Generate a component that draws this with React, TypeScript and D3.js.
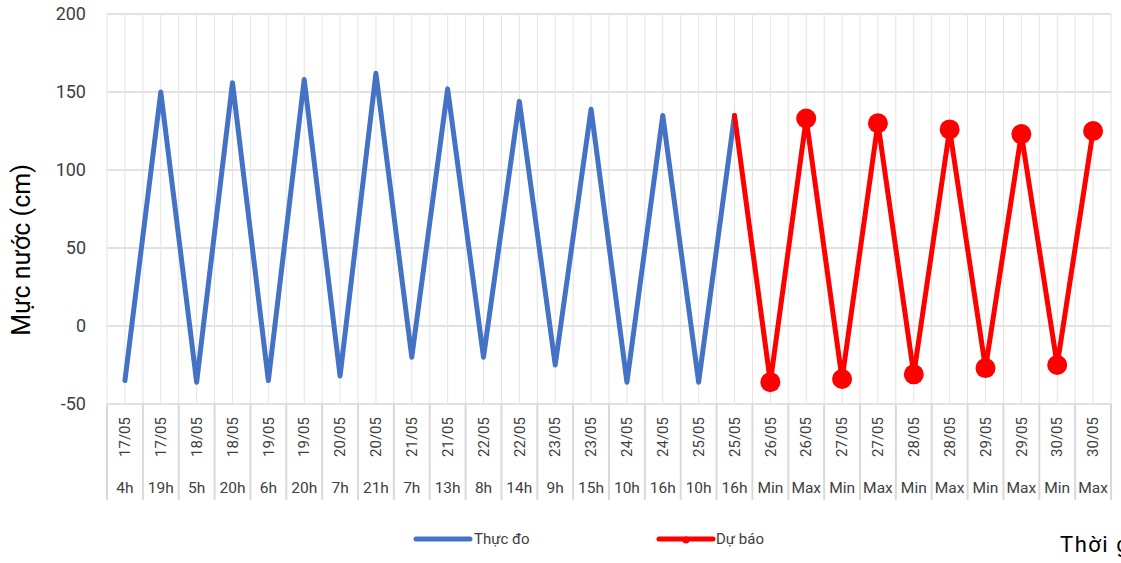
import * as d3 from 'd3';

const dates: string[] = [
  '17/05', '17/05', '18/05', '18/05', '19/05', '19/05', '20/05', '20/05', '21/05', '21/05',
  '22/05', '22/05', '23/05', '23/05', '24/05', '24/05', '25/05', '25/05',
  '26/05', '26/05', '27/05', '27/05', '28/05', '28/05', '29/05', '29/05', '30/05', '30/05',
];
const hours: string[] = [
  '4h', '19h', '5h', '20h', '6h', '20h', '7h', '21h', '7h', '13h',
  '8h', '14h', '9h', '15h', '10h', '16h', '10h', '16h',
  'Min', 'Max', 'Min', 'Max', 'Min', 'Max', 'Min', 'Max', 'Min', 'Max',
];
// observed levels (cm), index 0..17
const observed: number[] = [-35, 150, -36, 156, -35, 158, -32, 162, -20, 152, -20, 144, -25, 139, -36, 135, -36, 135];
// forecast levels (cm), starts at the last observed point (index 17)
const forecast: number[] = [135, -36, 133, -34, 130, -31, 126, -27, 123, -25, 125];
const yTicks: number[] = [-50, 0, 50, 100, 150, 200];

const W = 1121;
const H = 563;
const left = 107;
const right = 1111;
const top = 14;
const bottom = 404;
const font = "Roboto, 'Open Sans', sans-serif";

export default function App() {
  const keys = dates.map((d, i) => `${i}`);
  const x = d3.scaleBand<string>().domain(keys).range([left, right]).padding(0);
  const bw = x.bandwidth();
  const cx = (i: number) => (x(`${i}`) as number) + bw / 2;
  const y = d3.scaleLinear().domain([-50, 200]).range([bottom, top]);

  const line = d3.line<[number, number]>().x((d) => cx(d[0])).y((d) => y(d[1]));
  const obsPts: [number, number][] = observed.map((v, i) => [i, v]);
  const fcStart = observed.length - 1;
  const fcPts: [number, number][] = forecast.map((v, i) => [fcStart + i, v]);

  // gridlines at band edges and centres
  const vLines: number[] = [];
  keys.forEach((k, i) => {
    vLines.push(x(k) as number);
    vLines.push(cx(i));
  });
  vLines.push(right);

  const edges: number[] = keys.map((k) => x(k) as number).concat([right]);

  return (
    <svg width={W} height={H} style={{ position: 'absolute', left: 0, top: 0, background: '#fff' }}>
      {/* horizontal gridlines */}
      {yTicks.map((t) => (
        <line key={`h${t}`} x1={left} x2={right} y1={y(t)} y2={y(t)} stroke="#d9d9d9" strokeWidth={1.5} />
      ))}
      {/* vertical gridlines */}
      {vLines.map((v, i) => (
        <line key={`v${i}`} x1={v} x2={v} y1={top} y2={bottom} stroke="#e3e3e3" strokeWidth={1} />
      ))}
      {/* category label dividers */}
      {edges.map((v, i) => (
        <line key={`e${i}`} x1={v} x2={v} y1={bottom} y2={500} stroke="#d9d9d9" strokeWidth={2} />
      ))}
      {/* y tick labels */}
      {yTicks.map((t) => (
        <text key={`t${t}`} x={86} y={y(t)} dy="0.35em" textAnchor="end" fontFamily={font} fontSize={18} fill="#404040">
          {t}
        </text>
      ))}
      {/* y axis title */}
      <text
        transform={`translate(30,250) rotate(-90)`}
        textAnchor="middle"
        fontFamily={font}
        fontSize={25}
        fill="#000"
      >
        Mực nước (cm)
      </text>
      {/* category labels */}
      {dates.map((d, i) => (
        <text
          key={`d${i}`}
          transform={`translate(${cx(i)},437) rotate(-90)`}
          textAnchor="middle"
          dy="0.35em"
          fontFamily={font}
          fontSize={15}
          fill="#404040"
        >
          {d}
        </text>
      ))}
      {hours.map((h, i) => (
        <text key={`hr${i}`} x={cx(i)} y={488} dy="0.35em" textAnchor="middle" fontFamily={font} fontSize={15.5} fill="#404040">
          {h}
        </text>
      ))}
      {/* series */}
      <path d={line(obsPts) as string} fill="none" stroke="#4472C4" strokeWidth={5} strokeLinejoin="round" strokeLinecap="round" />
      <path d={line(fcPts) as string} fill="none" stroke="#FF0000" strokeWidth={5} strokeLinejoin="round" strokeLinecap="round" />
      {fcPts.slice(1).map((p, i) => (
        <circle key={`m${i}`} cx={cx(p[0])} cy={y(p[1])} r={10} fill="#FF0000" />
      ))}
      {/* legend */}
      <line x1={416} x2={470} y1={539} y2={539} stroke="#4472C4" strokeWidth={5} strokeLinecap="round" />
      <text x={474} y={539} dy="0.35em" fontFamily={font} fontSize={15} fill="#404040">
        Thực đo
      </text>
      <line x1={659} x2={713} y1={539} y2={539} stroke="#FF0000" strokeWidth={5} strokeLinecap="round" />
      <circle cx={686} cy={540} r={3.5} fill="#FF0000" />
      <text x={716} y={539} dy="0.35em" fontFamily={font} fontSize={15} fill="#404040">
        Dự báo
      </text>
      <text x={1060} y={552} fontFamily={font} fontSize={22} letterSpacing={1.5} fill="#000">
        Thời gian
      </text>
    </svg>
  );
}
